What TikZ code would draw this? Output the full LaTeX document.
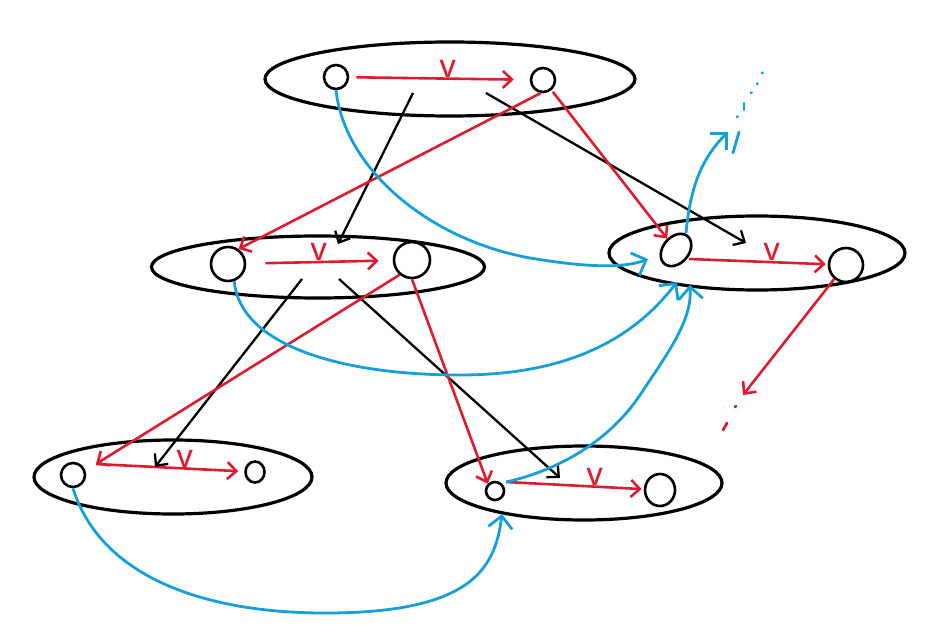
\documentclass[tikz,border=0pt]{standalone}
\usepackage{tikz}
\usetikzlibrary{arrows.meta}
\usetikzlibrary{shapes.geometric}

\definecolor{vred}{RGB}{222,28,48}
\definecolor{vblue}{RGB}{22,160,215}

\tikzset{
    group/.style={draw, ellipse, line width=3.2pt, inner sep=0pt},
    vertex/.style={draw, circle, line width=2.6pt, inner sep=0pt},
    redge/.style={vred, line width=2.6pt, -{Straight Barb[length=9pt, width=17pt]}},
    bedge/.style={line width=2.3pt, -{Straight Barb[length=9pt, width=17pt]}},
    cedge/.style={vblue, line width=2.8pt, -{Straight Barb[length=12pt, width=24pt]}},
    vlabel/.style={vred, font=\fontsize{40}{40}\selectfont\sffamily, inner sep=0pt, anchor=south},
    blot/.style={line width=2.8pt, line cap=round}
}

\begin{document}
\begin{tikzpicture}[x=1pt, y=-1pt]
        \useasboundingbox (0,0) rectangle (936,644);

        \node[group, minimum width=370, minimum height=74] (g1) at (450,79) {};
        \node[group, minimum width=333, minimum height=62] (g2) at (318,267) {};
        \node[group, minimum width=296, minimum height=74] (g3) at (757,253) {};
        \node[group, minimum width=278, minimum height=74] (g4) at (173,477) {};
        \node[group, minimum width=276, minimum height=74] (g5) at (584,483) {};

        \node[vertex, minimum size=24] (a1) at (336,77) {};
        \node[vertex, minimum size=24] (b1) at (543,80) {};
        \node[vertex, minimum size=34] (a2) at (228,264) {};
        \node[vertex, minimum size=36] (b2) at (412,260) {};
        \node[vertex, ellipse, minimum width=36, minimum height=26, rotate=50] (a3) at (676,250) {};
        \node[vertex, minimum size=34] (b3) at (846,265) {};
        \node[vertex, minimum size=24] (a4) at (73,475) {};
        \node[vertex, ellipse, minimum width=19, minimum height=21] (b4) at (255,472) {};
        \node[vertex, minimum size=18] (a5) at (495,491) {};
        \node[vertex, ellipse, minimum width=30, minimum height=32] (b5) at (660,490) {};

        \coordinate (a4p) at (96,464);
        \coordinate (a3p) at (689,259);
        \coordinate (a5p) at (506,482);

        % v inside each group
        \draw[redge, shorten <=7pt, shorten >=16pt] (a1) -- node[vlabel, pos=.55] {v} (b1);
        \draw[redge, shorten <=19pt, shorten >=14pt] (a2) -- node[vlabel] {v} (b2);
        \draw[redge, shorten >=2pt] (a3p) -- node[vlabel, pos=.6] {v} (b3);
        \draw[redge, shorten >=6pt] (a4p) -- node[vlabel, pos=.6] {v} (b4);
        \draw[redge, shorten >=2pt] (a5p) -- node[vlabel, pos=.65] {v} (b5);

        \coordinate (s12) at (413,93);
        \coordinate (t12) at (338,244);
        \coordinate (s13) at (486,93);
        \coordinate (t13) at (746,243);
        \coordinate (s24) at (302,279);
        \coordinate (t24) at (155,467);
        \coordinate (s25) at (339,279);
        \coordinate (t25) at (560,478);
        \draw[bedge] (s12) -- (t12);
        \draw[bedge] (s13) -- (t13);
        \draw[bedge] (s24) -- (t24);
        \draw[bedge] (s25) -- (t25);

        \draw[redge] (b1.-100) -- (a2.55);
        \draw[redge, shorten <=2pt] (b1.-50) -- (a3);
        \draw[redge] (b2.-130) -- (a4p);
        \draw[redge] (b2.south) -- (a5.north west);
        \coordinate (b3out) at (743,395);
        \draw[redge] (b3.-130) -- (b3out);
        \draw[vred, blot] (735,407) -- (736,406);
        \draw[vred, blot] (723,430) -- (727,423);

        \coordinate (in31) at (648,259);
        \coordinate (in32) at (677,282);
        \coordinate (in35) at (690,285);
        \coordinate (in54) at (502,514);
        \coordinate (out3) at (728,132);
        \draw[cedge] (a1.south) .. controls (345,170) and (430,240) .. (530,258) .. controls (590,268) and (625,268) .. (in31);
        \draw[cedge] (a2.-70) .. controls (240,345) and (340,375) .. (460,375) .. controls (580,375) and (640,330) .. (in32);
        \draw[cedge] (a4.south) .. controls (100,575) and (200,612) .. (320,613) .. controls (470,614) and (495,570) .. (in54);
        \draw[cedge] (a5p) .. controls (560,470) and (610,440) .. (640,395) .. controls (670,350) and (692,320) .. (in35);
        \draw[cedge] (686,233) .. controls (690,190) and (700,160) .. (out3);
        \draw[vblue, blot] (733,153) -- (739,132);
        \draw[vblue, blot] (737,117) -- (737.5,116.5);
        \draw[vblue, blot] (744,103) -- (744,110);
        \draw[vblue, blot] (751,93) -- (751.5,92.5);
        \draw[vblue, blot] (757,84) -- (757.5,83.5);
        \draw[vblue, blot] (762,73) -- (762.5,72.5);
\end{tikzpicture}
\end{document}
